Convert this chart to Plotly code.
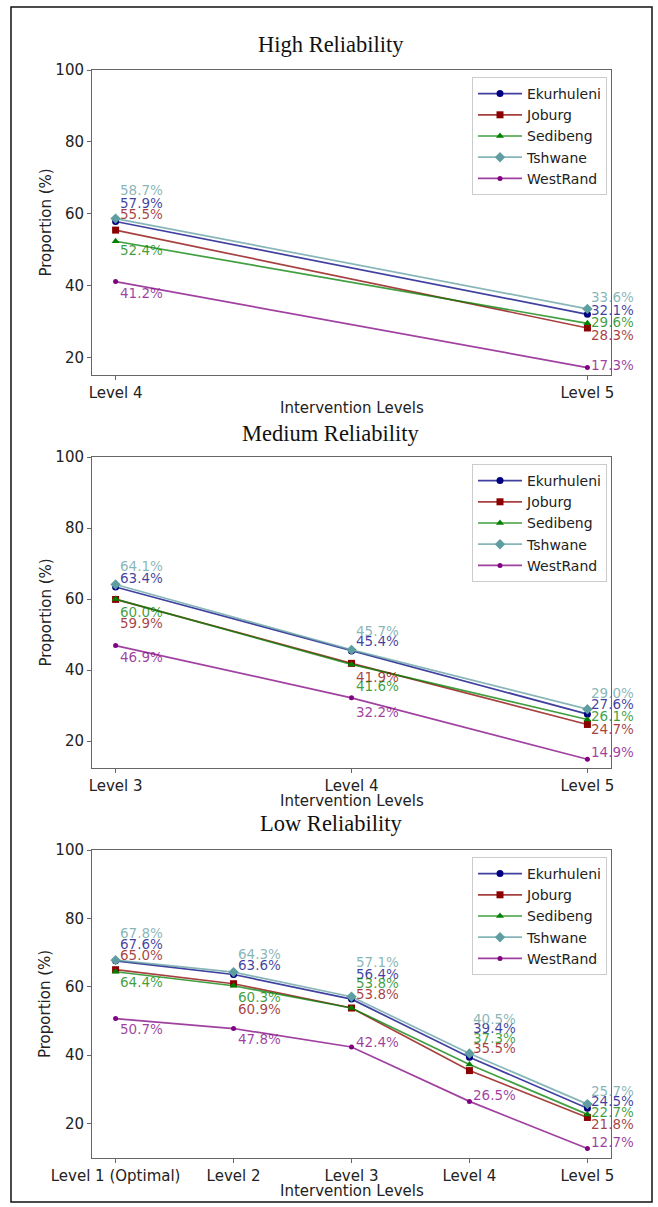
import plotly.graph_objects as go

W, H = 658, 1207

# ---------------- data ----------------
cities = ["Ekurhuleni", "Joburg", "Sedibeng", "Tshwane", "WestRand"]

high_levels = ["Level 4", "Level 5"]
high_ekurhuleni = [57.9, 32.1]
high_joburg = [55.5, 28.3]
high_sedibeng = [52.4, 29.6]
high_tshwane = [58.7, 33.6]
high_westrand = [41.2, 17.3]

medium_levels = ["Level 3", "Level 4", "Level 5"]
medium_ekurhuleni = [63.4, 45.4, 27.6]
medium_joburg = [59.9, 41.9, 24.7]
medium_sedibeng = [60.0, 41.6, 26.1]
medium_tshwane = [64.1, 45.7, 29.0]
medium_westrand = [46.9, 32.2, 14.9]

low_levels = ["Level 1 (Optimal)", "Level 2", "Level 3", "Level 4", "Level 5"]
low_ekurhuleni = [67.6, 63.6, 56.4, 39.4, 24.5]
low_joburg = [65.0, 60.9, 53.8, 35.5, 21.8]
low_sedibeng = [64.4, 60.3, 53.8, 37.3, 22.7]
low_tshwane = [67.8, 64.3, 57.1, 40.5, 25.7]
low_westrand = [50.7, 47.8, 42.4, 26.5, 12.7]

y_ticks = [20, 40, 60, 80, 100]

# ---------------- styles ----------------
colors = {"Ekurhuleni": (0, 0, 128), "Joburg": (139, 0, 0), "Sedibeng": (0, 128, 0),
          "Tshwane": (95, 158, 160), "WestRand": (128, 0, 128)}
symbols = {"Ekurhuleni": "circle", "Joburg": "square", "Sedibeng": "triangle-up",
           "Tshwane": "diamond", "WestRand": "circle"}
msizes = {"Ekurhuleni": 7, "Joburg": 7, "Sedibeng": 7, "Tshwane": 8, "WestRand": 5}

# label vertical offsets in screen pixels (positive = downward), per level
offsets_high = {"Ekurhuleni": [-18, -4], "Joburg": [-16, 7], "Sedibeng": [9, -1],
                "Tshwane": [-29, -12], "WestRand": [11, -3]}
offsets_medium = {"Ekurhuleni": [-9, -10, -10], "Joburg": [24, 14, 5], "Sedibeng": [13, 22, -3],
                  "Tshwane": [-19, -19, -16], "WestRand": [11, 14, -7]}
offsets_low = {"Ekurhuleni": [-17, -9, -25, -29, -7], "Joburg": [-15, 25, -14, -23, 7],
               "Sedibeng": [10, 11, -25, -26, -2], "Tshwane": [-27, -18, -35, -35, -13],
               "WestRand": [10, 10, -5, -6, -7]}


def rgba(c, a):
    return f"rgba({c[0]},{c[1]},{c[2]},{a})"


def px_x(x):
    return x / W


def px_y(y):
    return 1 - y / H


panels = [
    dict(title="High Reliability", levels=high_levels,
         data={"Ekurhuleni": high_ekurhuleni, "Joburg": high_joburg, "Sedibeng": high_sedibeng,
               "Tshwane": high_tshwane, "WestRand": high_westrand},
         offsets=offsets_high, top=70, bottom=375, title_y=45),
    dict(title="Medium Reliability", levels=medium_levels,
         data={"Ekurhuleni": medium_ekurhuleni, "Joburg": medium_joburg, "Sedibeng": medium_sedibeng,
               "Tshwane": medium_tshwane, "WestRand": medium_westrand},
         offsets=offsets_medium, top=457, bottom=768, title_y=433),
    dict(title="Low Reliability", levels=low_levels,
         data={"Ekurhuleni": low_ekurhuleni, "Joburg": low_joburg, "Sedibeng": low_sedibeng,
               "Tshwane": low_tshwane, "WestRand": low_westrand},
         offsets=offsets_low, top=850, bottom=1158, title_y=823),
]

PLOT_L, PLOT_R = 92, 611
TICK_FONT = dict(family="DejaVu Sans", size=15, color="#222222")
AXIS_COLOR = "#666666"

fig = go.Figure()
annotations = []
layout_axes = {}

for i, p in enumerate(panels, start=1):
    sfx = "" if i == 1 else str(i)
    xa, ya = f"x{sfx}", f"y{sfx}"
    leg = "legend" if i == 1 else f"legend{i}"
    n = len(p["levels"])
    all_vals = [v for c in cities for v in p["data"][c]]
    vmin, vmax = min(all_vals), max(all_vals)
    ybot = vmin - 0.05 * (vmax - vmin)

    for c in cities:
        fig.add_trace(go.Scatter(
            x=p["levels"], y=p["data"][c], name=c, mode="lines+markers",
            xaxis=xa, yaxis=ya, legend=leg,
            line=dict(color=rgba(colors[c], 0.75), width=1.7),
            marker=dict(color=rgba(colors[c], 1), symbol=symbols[c], size=msizes[c],
                        line=dict(width=0)),
            hoverinfo="skip",
        ))
        for j, (lvl, v) in enumerate(zip(p["levels"], p["data"][c])):
            annotations.append(dict(
                x=lvl, y=v, xref=xa, yref=ya, text=f"{v:.1f}%", showarrow=False,
                xanchor="left", yanchor="middle", xshift=2, yshift=-p["offsets"][c][j],
                font=dict(family="DejaVu Sans", size=13.5, color=rgba(colors[c], 0.75)),
            ))

    dom_y = [px_y(p["bottom"]), px_y(p["top"])]
    layout_axes[f"xaxis{sfx}"] = dict(
        domain=[px_x(PLOT_L), px_x(PLOT_R)], anchor=ya, type="category",
        range=[-0.05 * (n - 1), (n - 1) * 1.05], showgrid=False, zeroline=False,
        showline=True, linecolor=AXIS_COLOR, linewidth=1, mirror=True, automargin=False,
        ticks="outside", ticklen=4, tickcolor=AXIS_COLOR, tickfont=TICK_FONT,
    )
    layout_axes[f"yaxis{sfx}"] = dict(
        domain=dom_y, anchor=xa, range=[ybot, 100], tickvals=y_ticks,
        showgrid=False, zeroline=False, automargin=False,
        showline=True, linecolor=AXIS_COLOR, linewidth=1, mirror=True,
        ticks="outside", ticklen=4, tickcolor=AXIS_COLOR, tickfont=TICK_FONT,
    )
    layout_axes[leg] = dict(
        x=px_x(607), y=px_y(p["top"] + 7), xanchor="right", yanchor="top",
        bgcolor="rgba(255,255,255,0.85)", bordercolor="#cccccc", borderwidth=1,
        font=dict(family="DejaVu Sans", size=14, color="#222222"),
        itemwidth=44, tracegroupgap=0,
    )
    # title
    annotations.append(dict(
        x=px_x(331), y=px_y(p["title_y"]), xref="paper", yref="paper", text=p["title"],
        showarrow=False, xanchor="center", yanchor="middle",
        font=dict(family="Liberation Serif", size=22.5, color="#111111"),
    ))
    # axis titles
    annotations.append(dict(
        x=px_x((PLOT_L + PLOT_R) / 2), y=px_y(p["bottom"] + 33), xref="paper", yref="paper",
        text="Intervention Levels", showarrow=False, xanchor="center", yanchor="middle",
        font=dict(family="DejaVu Sans", size=15, color="#222222"),
    ))
    annotations.append(dict(
        x=px_x(45), y=px_y((p["top"] + p["bottom"]) / 2), xref="paper", yref="paper",
        text="Proportion (%)", showarrow=False, textangle=-90, xanchor="center", yanchor="middle",
        font=dict(family="DejaVu Sans", size=15, color="#222222"),
    ))

fig.update_layout(
    width=W, height=H, margin=dict(l=0, r=0, t=0, b=0, pad=0, autoexpand=False),
    paper_bgcolor="white", plot_bgcolor="white",
    annotations=annotations,
    shapes=[dict(type="rect", xref="paper", yref="paper",
                 x0=px_x(11), x1=px_x(652), y0=px_y(1202), y1=px_y(7),
                 line=dict(color="#111111", width=1.5), fillcolor="rgba(0,0,0,0)")],
    **layout_axes,
)

fig.write_html("out.html", config={"displayModeBar": False},
               post_script="document.body.style.margin='0';document.body.style.overflow='hidden';")
